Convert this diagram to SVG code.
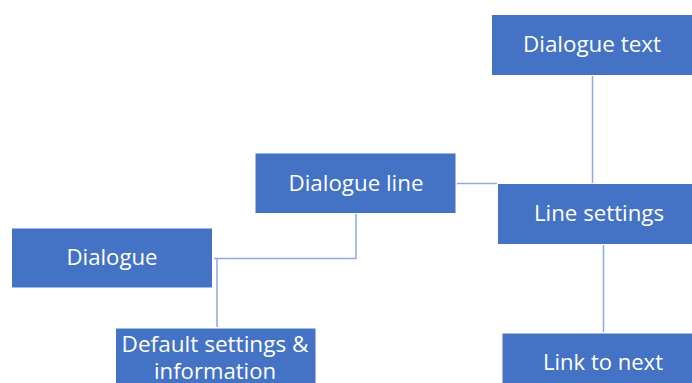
<svg xmlns="http://www.w3.org/2000/svg" width="692" height="383" viewBox="0 0 692 383">
<style>
.box{fill:#4472C4;stroke:#ffffff;stroke-width:1}
.t{fill:#ffffff;font-family:"Open Sans","Noto Sans",sans-serif;font-size:21px;text-anchor:middle}
.c{fill:none;stroke:#8FAADC;stroke-width:1.5}
</style>
<rect width="692" height="383" fill="#ffffff"/>
<g id="connectors">
<line class="c" x1="592.5" y1="76" x2="592.5" y2="183"/>
<line class="c" x1="457" y1="183.5" x2="497" y2="183.5"/>
<line class="c" x1="603.5" y1="245" x2="603.5" y2="332"/>
<polyline class="c" points="356,214 356,258.5 214,258.5"/>
<line class="c" x1="217" y1="258" x2="217" y2="327"/>
</g>
<g id="dialogue-text">
<rect class="box" x="491.5" y="14.5" width="201" height="61"/>
<text class="t" x="592" y="52" textLength="138" lengthAdjust="spacingAndGlyphs">Dialogue text</text>
</g>
<g id="line-settings">
<rect class="box" x="497.5" y="183.5" width="203" height="61"/>
<text class="t" x="599" y="221" textLength="130" lengthAdjust="spacingAndGlyphs">Line settings</text>
</g>
<g id="dialogue-line">
<rect class="box" x="255" y="153" width="201" height="60.5"/>
<text class="t" x="356" y="190.5" textLength="135" lengthAdjust="spacingAndGlyphs">Dialogue line</text>
</g>
<g id="dialogue">
<rect class="box" x="11.5" y="228" width="201" height="60"/>
<text class="t" x="112" y="265" textLength="91" lengthAdjust="spacingAndGlyphs">Dialogue</text>
</g>
<g id="default-settings">
<rect class="box" x="115.5" y="328" width="200.5" height="70"/>
<text class="t" x="215" y="351.5" textLength="187" lengthAdjust="spacingAndGlyphs">Default settings &amp;</text>
<text class="t" x="215" y="378.5" textLength="122" lengthAdjust="spacingAndGlyphs">information</text>
</g>
<g id="link-to-next">
<rect class="box" x="502" y="333" width="202" height="70"/>
<text class="t" x="603" y="370" textLength="120" lengthAdjust="spacingAndGlyphs">Link to next</text>
</g>
</svg>
